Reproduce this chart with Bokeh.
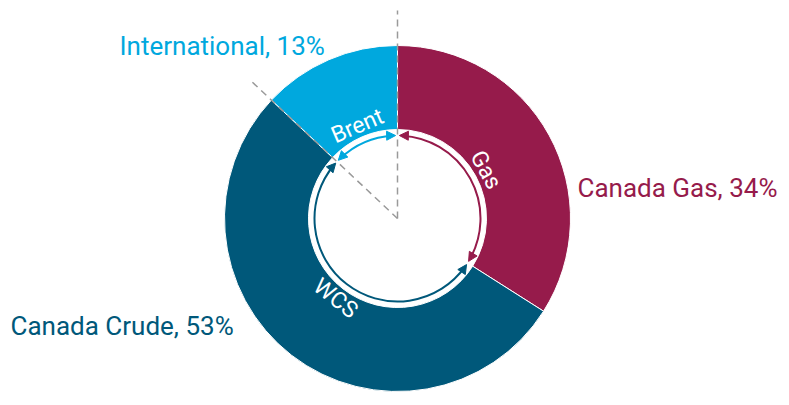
import math
from bokeh.plotting import figure
from bokeh.models import Range1d, ColumnDataSource, Arrow, NormalHead
from bokeh.core.properties import value
from bokeh.embed import file_html
from bokeh.resources import INLINE

# ---- data ----
segments = ["Canada Gas", "Canada Crude", "International"]
shares = [34, 53, 13]
benchmarks = ["Gas", "WCS", "Brent"]
colors = ["#961B4B", "#00587A", "#00A8DE"]

FONT = "Roboto"

W, H = 785, 400
# data coordinates: x = image x, y = 405 - image y
p = figure(width=W, height=H, x_range=Range1d(0, W), y_range=Range1d(405 - H, 405),
           output_backend="svg", toolbar_location=None, min_border=0)
p.axis.visible = False
p.grid.visible = False
p.outline_line_color = None

cx, cy = 397, 187
R_out, R_in, R_arc = 173, 89, 83

starts, ends = [], []
a = 90.0
for s in shares:
    starts.append(a)
    a -= s / 100 * 360
    ends.append(a)

rad = math.radians
src = ColumnDataSource(dict(start=[rad(v) for v in starts], end=[rad(v) for v in ends], color=colors))
p.annular_wedge(x=cx, y=cy, inner_radius=R_in, outer_radius=R_out, start_angle="start", end_angle="end",
                direction="clock", fill_color="color", line_color="white", line_width=1, source=src)

# dashed boundary guides
for ang, r in [(starts[0], 208), (ends[1], 201)]:
    p.line([cx, cx + r * math.cos(rad(ang))], [cy, cy + r * math.sin(rad(ang))],
           line_color="#9a9a9a", line_width=1.5, line_dash="7 5")

# benchmark arcs with arrows
d = 1.3
for st, en, c in zip(starts, ends, colors):
    p.arc(x=cx, y=cy, radius=R_arc, start_angle=rad(st - d - 2), end_angle=rad(en + d + 2),
          direction="clock", line_color=c, line_width=2)
    for tip_ang, sign in [(st - d, 1), (en + d, -1)]:
        t = rad(tip_ang)
        tx, ty = cx + R_arc * math.cos(t), cy + R_arc * math.sin(t)
        dx, dy = -math.sin(t) * sign, math.cos(t) * sign
        p.add_layout(Arrow(end=NormalHead(size=9, fill_color=c, line_color=c, line_width=1),
                           x_start=tx - 7 * dx, y_start=ty - 7 * dy, x_end=tx, y_end=ty,
                           line_color=c, line_width=2))

# inner benchmark labels
lx, ly, lrot = [], [], []
for st, en in zip(starts, ends):
    mid = (st + en) / 2 % 360
    lx.append(cx + 101 * math.cos(rad(mid)))
    ly.append(cy + 101 * math.sin(rad(mid)))
    rot = mid - 90 if mid < 180 else mid + 90 - 360
    lrot.append(rad(rot))
p.text(x=lx, y=ly, text=benchmarks, angle=lrot, text_color="white", text_font=value(FONT),
       text_font_size="23px", text_align="center", text_baseline="middle")

# outer segment labels
label_pos = [(577, 218), (10, 80), (119, 360)]
p.text(x=[q[0] for q in label_pos], y=[q[1] for q in label_pos],
       text=[f"{s}, {v}%" for s, v in zip(segments, shares)],
       text_color=colors, text_font=value(FONT), text_font_size="26px",
       text_align="left", text_baseline="alphabetic")

open("out.html", "w").write(file_html(p, INLINE))
